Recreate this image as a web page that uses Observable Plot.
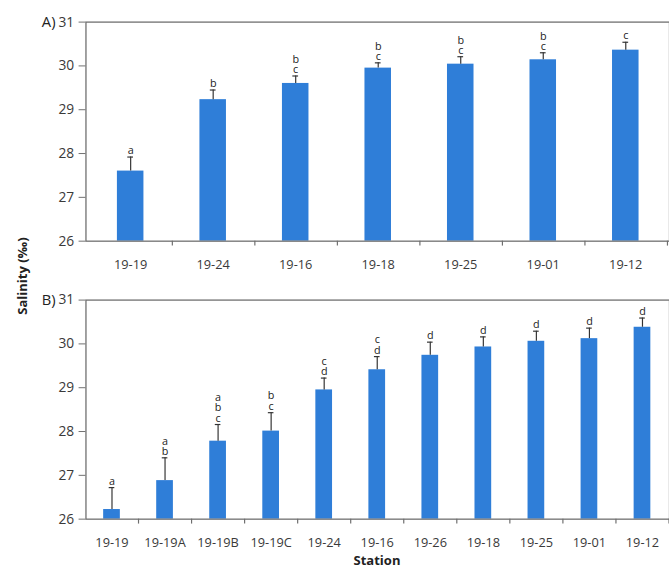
<!DOCTYPE html>
<html>
<head>
<meta charset="utf-8">
<script src="https://cdn.jsdelivr.net/npm/d3@7"></script>
<script src="https://cdn.jsdelivr.net/npm/@observablehq/plot@0.6"></script>
<style>
  html, body { margin: 0; padding: 0; background: #fff; overflow: hidden; }
  #wrap { position: relative; width: 669px; height: 568px; overflow: hidden; background: #fff;
          font-family: "Open Sans", sans-serif; color: #333; }
  .panel { position: absolute; left: 0; }
  #ytitle { position: absolute; left: 22px; top: 276px; transform: translate(-50%, -50%) rotate(-90deg);
            font-weight: bold; font-size: 13px; white-space: nowrap; color: #222; }
  #xtitle { position: absolute; left: 377px; top: 560px; transform: translate(-50%, -50%);
            font-weight: bold; font-size: 13px; line-height: 13px; white-space: nowrap; color: #222; }
</style>
</head>
<body>
<div id="wrap">
  <div id="panelA" class="panel" style="top:0px"></div>
  <div id="panelB" class="panel" style="top:277px"></div>
  <div id="ytitle">Salinity (‰)</div>
  <div id="xtitle">Station</div>
</div>
<script>
// Panel A: mean salinity by station, with standard error and grouping letters
const stationsA = ["19-19", "19-24", "19-16", "19-18", "19-25", "19-01", "19-12"];
const meanA     = [27.60, 29.23, 29.60, 29.95, 30.04, 30.14, 30.36];
const errorA    = [0.32, 0.22, 0.17, 0.12, 0.17, 0.16, 0.18];
const lettersA  = ["a", "b", "b\nc", "b\nc", "b\nc", "b\nc", "c"];

// Panel B: same measure including the 19-19A/B/C and 19-26 stations
const stationsB = ["19-19", "19-19A", "19-19B", "19-19C", "19-24", "19-16", "19-26", "19-18", "19-25", "19-01", "19-12"];
const meanB     = [26.22, 26.88, 27.78, 28.01, 28.95, 29.41, 29.74, 29.93, 30.06, 30.12, 30.38];
const errorB    = [0.50, 0.52, 0.38, 0.42, 0.27, 0.30, 0.30, 0.23, 0.23, 0.24, 0.21];
const lettersB  = ["a", "a\nb", "a\nb\nc", "b\nc", "c\nd", "c\nd", "d", "d", "d", "d", "d"];

const yTicks = [26, 27, 28, 29, 30, 31];

const barColor = "#2f7ed8";
const axisColor = "#6e6e6e";
const textColor = "#3a3a3a";

function panel(tag, stations, mean, error, letters, marginTop) {
  const rows = stations.map((s, i) => ({
    station: s, mean: mean[i], top: mean[i] + error[i], letters: letters[i]
  }));
  const width = 681, marginLeft = 87, marginRight = 0, marginBottom = 35;
  const height = marginTop + 223 + marginBottom;
  const padInner = 0.68;
  const step = (width - marginLeft - marginRight) / stations.length;
  const bandwidth = step * (1 - padInner);
  const capInset = (bandwidth - 6) / 2;
  const base = yTicks[0];

  return Plot.plot({
    width, height, marginLeft, marginRight, marginTop, marginBottom,
    style: { fontFamily: "'Open Sans', sans-serif", color: textColor, background: "transparent" },
    x: { domain: stations, paddingInner: padInner, paddingOuter: padInner / 2, label: null },
    y: { domain: [yTicks[0], yTicks[yTicks.length - 1]], label: null },
    marks: [
      Plot.barY(rows, { x: "station", y1: base, y2: "mean", fill: barColor }),
      Plot.ruleX(rows, { x: "station", y1: "mean", y2: "top", stroke: "#333", strokeWidth: 1.2 }),
      Plot.tickY(rows, { x: "station", y: "top", stroke: "#333", strokeWidth: 1.2,
                         insetLeft: capInset, insetRight: capInset }),
      Plot.text(rows, { x: "station", y: "top", text: "letters", lineAnchor: "bottom",
                        lineHeight: 0.95, dy: -3, fontSize: 11, fill: "#222" }),
      Plot.frame({ stroke: axisColor, strokeWidth: 1.3 }),
      // category boundary ticks below the x axis
      Plot.ruleX(rows, { x: "station", dx: step / 2, y1: base, y2: base,
                         insetBottom: -5, stroke: axisColor, strokeWidth: 1.2 }),
      Plot.axisY({ ticks: yTicks, tickFormat: d3.format("d"), tickSize: 7, tickPadding: 5,
                   fontSize: 14, stroke: axisColor, label: null }),
      Plot.axisX({ tickSize: 0, tickPadding: 19, fontSize: 13, label: null }),
      Plot.text([tag], { frameAnchor: "top-left", dx: -31, textAnchor: "end",
                         lineAnchor: "middle", fontSize: 15, fill: "#222" })
    ]
  });
}

document.getElementById("panelA").append(panel("A)", stationsA, meanA, errorA, lettersA, 22));
document.getElementById("panelB").append(panel("B)", stationsB, meanB, errorB, lettersB, 23));
</script>
</body>
</html>
